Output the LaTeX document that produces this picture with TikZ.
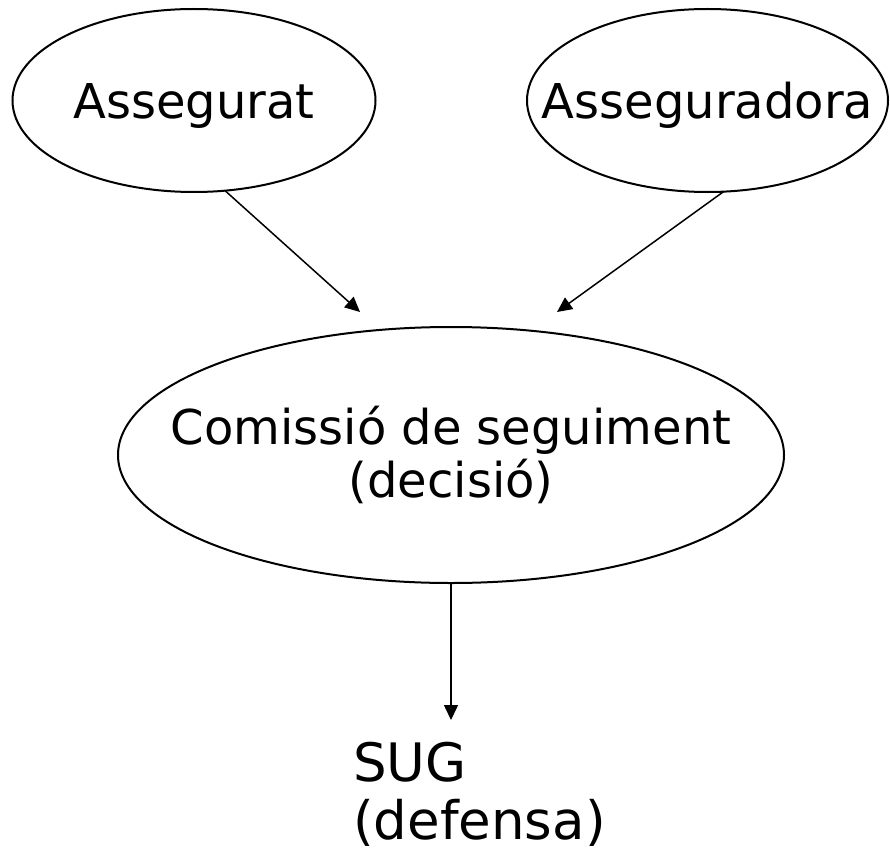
\documentclass[tikz,border=0pt]{standalone}
\usepackage{fontspec}
\setmainfont{DejaVu Sans}
\usetikzlibrary{shapes.geometric,arrows.meta}
\tikzset{%
  oval/.style={draw,shape=ellipse,line width=2pt,inner sep=0,outer sep=0},
  lbl/.style={inner sep=0,align=center,font=\fontsize{48}{53}\selectfont},
  link/.style={draw,line width=1.5pt,-{Triangle[length=15pt,width=14pt]}}
}
\begin{document}
\begin{tikzpicture}[x=1pt,y=-1pt]
    \useasboundingbox (0,0) rectangle (890,853);
    \path
      (194,100.5) node[oval,minimum width=363,minimum height=183] (asg) {}
      (707.5,100.5) node[oval,minimum width=361,minimum height=183] (asr) {}
      (451,455) node[oval,minimum width=666,minimum height=256] (com) {};
    \path
      (194,105.5) node[lbl] (asgtext) {Assegurat}
      (707.5,105.5) node[lbl] (asrtext) {Asseguradora}
      (451,455) node[lbl] (comtext) {Comissió de seguiment\\(decisió)}
      (353,742) node[lbl,anchor=north west,align=left,font=\fontsize{53}{58}\selectfont] (sug) {SUG\\(defensa)};
    \coordinate (inl) at (360,312);
    \coordinate (inr) at (557,312);
    \draw[link] (asg.-71) -- (inl);
    \draw[link] (asr.-80) -- (inr);
    \draw[link,shorten >=22pt] (com.south) -- (com.south |- sug.north);
\end{tikzpicture}
\end{document}
